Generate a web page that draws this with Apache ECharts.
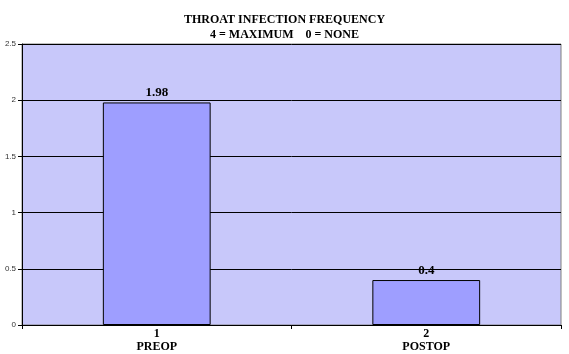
<!DOCTYPE html>
<html><head><meta charset="utf-8">
<script src="https://cdn.jsdelivr.net/npm/echarts@6/dist/echarts.min.js"></script>
<style>html,body{margin:0;padding:0;background:#fff}#c{width:569px;height:354px}</style>
</head><body><div id="c"></div>
<script>
const categories = ['1\nPREOP', '2\nPOSTOP'];
const values = [1.98, 0.4];
const valueLabels = ['1.98', '0.4'];
const yTicks = [0, 0.5, 1, 1.5, 2, 2.5];

const chart = echarts.init(document.getElementById('c'), null, {renderer: 'canvas'});
chart.setOption({
  animation: false,
  backgroundColor: '#ffffff',
  title: {
    text: 'THROAT INFECTION FREQUENCY\n4 = MAXIMUM    0 = NONE',
    left: 'center', top: 7,
    textStyle: {fontFamily: 'Liberation Serif', fontWeight: 'bold', fontSize: 12, color: '#000', lineHeight: 15}
  },
  grid: {left: 22, right: 8, top: 44, bottom: 29, show: true, backgroundColor: '#C8C8FA', borderColor: '#808080', borderWidth: 1},
  xAxis: {
    type: 'category', data: categories,
    axisLine: {lineStyle: {color: '#000', width: 1}},
    axisTick: {show: true, length: 4, lineStyle: {color: '#000'}},
    axisLabel: {fontFamily: 'Liberation Serif', fontWeight: 'bold', fontSize: 12, color: '#000', lineHeight: 13, margin: 2}
  },
  yAxis: {
    type: 'value', min: 0, max: 2.5, interval: 0.5,
    axisLine: {show: true, lineStyle: {color: '#000'}},
    axisTick: {show: true, length: 4, lineStyle: {color: '#000'}},
    splitLine: {lineStyle: {color: '#000', width: 1}},
    axisLabel: {fontFamily: 'Liberation Sans', fontSize: 8, color: '#333', margin: 6,
      formatter: v => String(v)}
  },
  series: [{
    type: 'bar', data: values, barWidth: '40%',
    itemStyle: {color: '#9E9EFF', borderColor: '#000', borderWidth: 1},
    label: {show: true, position: 'top', distance: 3, fontFamily: 'Liberation Serif', fontWeight: 'bold', fontSize: 13, color: '#000',
      formatter: p => valueLabels[p.dataIndex]}
  }]
});
</script></body></html>
